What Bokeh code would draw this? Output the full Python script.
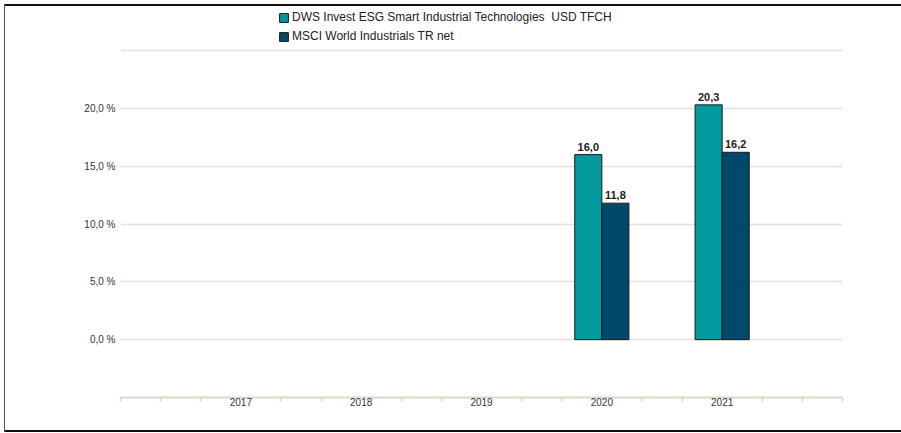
from bokeh.plotting import figure
from bokeh.models import Range1d, FixedTicker, Legend, LegendItem, ColumnDataSource
from bokeh.core.properties import value
from bokeh.embed import file_html
from bokeh.resources import INLINE

# ---- data ----
years = [2017, 2018, 2019, 2020, 2021]
fund_name = "DWS Invest ESG Smart Industrial Technologies  USD TFCH"
bench_name = "MSCI World Industrials TR net"
fund_values = [None, None, None, 16.0, 20.3]
bench_values = [None, None, None, 11.8, 16.2]
y_ticks = [0, 5, 10, 15, 20]
y_tick_labels = ["0,0 %", "5,0 %", "10,0 %", "15,0 %", "20,0 %"]

FONT = "Liberation Sans"
TEAL = "#009a9e"
DARK = "#00496b"
BAR_W = 0.225
Y_MIN, Y_GRID_TOP = -5, 25
# frame extends above the top gridline to hold the legend (50 px of 347 px per 30 units)
Y_MAX = Y_GRID_TOP + 50 * (Y_GRID_TOP - Y_MIN) / 347

def fmt(v):
    return f"{v:.1f}".replace(".", ",")

fx = [y - BAR_W / 2 for y, v in zip(years, fund_values) if v is not None]
fy = [v for v in fund_values if v is not None]
bx = [y + BAR_W / 2 for y, v in zip(years, bench_values) if v is not None]
by = [v for v in bench_values if v is not None]

src_f = ColumnDataSource(dict(x=fx, top=fy, label=[fmt(v) for v in fy]))
src_b = ColumnDataSource(dict(x=bx, top=by, label=[fmt(v) for v in by]))

p = figure(width=901, height=433, output_backend="svg", toolbar_location=None,
           x_range=Range1d(2016, 2022), y_range=Range1d(Y_MIN, Y_MAX),
           min_border_left=120, min_border_right=59, min_border_top=0,
           min_border_bottom=36)
p.outline_line_color = None
p.background_fill_color = None
p.border_fill_color = None
# outer frame of the picture (left, top, bottom edges)
p.styles = {
    "background-color": "white",
    "box-shadow": ("inset 4px 0 0 white, inset 0 4px 0 white, inset 0 -1px 0 white, "
                   "inset 5px 0 0 #555555, inset 0 6px 0 #111111, inset 0 -3px 0 #111111"),
}

r1 = p.vbar(x="x", top="top", bottom=0, width=BAR_W, source=src_f,
            fill_color=TEAL, line_color="#1a1a1a", line_width=1)
r2 = p.vbar(x="x", top="top", bottom=0, width=BAR_W, source=src_b,
            fill_color=DARK, line_color="#1a1a1a", line_width=1)

for src in (src_f, src_b):
    p.text(x="x", y="top", text="label", source=src, text_align="center",
           text_baseline="bottom", y_offset=-4, text_font=value(FONT),
           text_font_size="11px", text_font_style="bold", text_color="#222222")

# y axis
p.yaxis.ticker = FixedTicker(ticks=y_ticks)
p.yaxis.major_label_overrides = {t: l for t, l in zip(y_ticks, y_tick_labels)}
p.yaxis.axis_line_color = None
p.yaxis.major_tick_line_color = None
p.yaxis.major_tick_out = 0
p.yaxis.major_tick_in = 0
p.yaxis.minor_tick_line_color = None
p.yaxis.major_label_standoff = 5
p.yaxis.major_label_text_font = FONT
p.yaxis.major_label_text_font_size = "10px"
p.yaxis.major_label_text_color = "#333333"

p.ygrid.ticker = FixedTicker(ticks=y_ticks + [Y_GRID_TOP])
p.ygrid.grid_line_color = "#e3e0d9"
p.ygrid.grid_line_width = 1.5
p.xgrid.grid_line_color = None

# x axis: small ticks every third of a year, none under the labels
minor = []
for k in range(0, 19):
    pos = 2016 + k / 3
    if abs(pos - round(pos)) > 1e-6 or round(pos) in (2016, 2022):
        minor.append(pos)
p.xaxis.ticker = FixedTicker(ticks=years, minor_ticks=minor)
p.xaxis.major_label_overrides = {y: str(y) for y in years}
p.xaxis.axis_line_color = "#dbd7cb"
p.xaxis.axis_line_width = 2
p.xaxis.major_tick_line_color = None
p.xaxis.major_tick_out = 0
p.xaxis.major_tick_in = 0
p.xaxis.minor_tick_line_color = "#d6d2c6"
p.xaxis.minor_tick_line_width = 1.5
p.xaxis.minor_tick_out = 4
p.xaxis.minor_tick_in = 0
p.xaxis.major_label_standoff = -4
p.xaxis.major_label_text_font = FONT
p.xaxis.major_label_text_font_size = "10px"
p.xaxis.major_label_text_color = "#333333"

legend = Legend(items=[LegendItem(label=fund_name, renderers=[r1]),
                       LegendItem(label=bench_name, renderers=[r2])],
                location=(158, 354), orientation="vertical",
                glyph_width=11, glyph_height=11, label_height=11,
                label_standoff=3, spacing=5, padding=0, margin=0,
                border_line_color=None, background_fill_alpha=0,
                label_text_font=FONT, label_text_font_size="12px",
                label_text_color="#222222")
p.add_layout(legend, "center")

open("out.html", "w").write(file_html(p, INLINE))
